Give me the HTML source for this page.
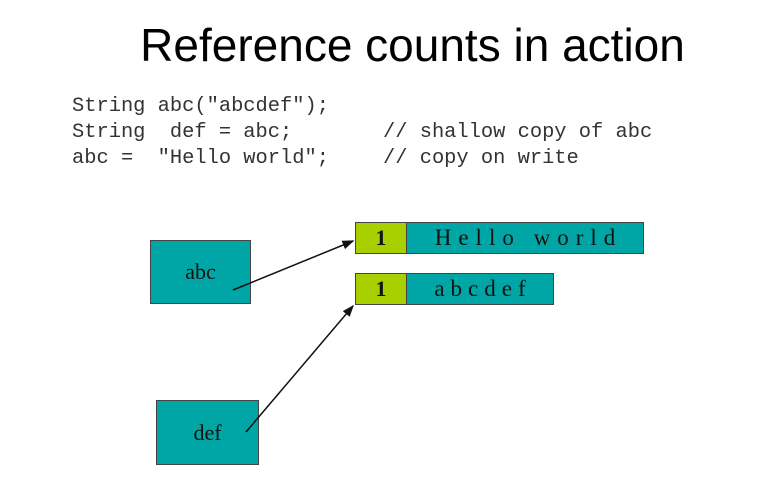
<!DOCTYPE html>
<html><head><style>
body{margin:0;width:769px;height:478px;background:#fff;overflow:hidden;position:relative;font-family:"Liberation Sans",sans-serif}
.t{position:absolute;left:0;width:825px;text-align:center;top:18px;font-size:46px;color:#000}
.c{position:absolute;font-family:"Liberation Mono",monospace;font-size:20.4px;color:#333;white-space:pre;line-height:24px}
.b{position:absolute;background:#00a6a6;border:1px solid #444;box-sizing:border-box;font-family:"Liberation Serif",serif;color:#111;display:flex;align-items:center;justify-content:center}
.g{background:#a8d000;font-weight:bold;font-size:22px}
</style></head><body>
<div class="t">Reference counts in action</div>
<div class="c" style="left:72px;top:95px">String abc("abcdef");</div>
<div class="c" style="left:72px;top:121px">String  def = abc;</div>
<div class="c" style="left:72px;top:147px">abc =  "Hello world";</div>
<div class="c" style="left:383px;top:121px">// shallow copy of abc</div>
<div class="c" style="left:383px;top:147px">// copy on write</div>
<div class="b g" style="left:355px;top:222px;width:52px;height:32px">1</div>
<div class="b" style="left:406px;top:222px;width:238px;height:32px;font-size:23px;letter-spacing:7px;padding-left:7px">Hello world</div>
<div class="b g" style="left:355px;top:273px;width:52px;height:32px">1</div>
<div class="b" style="left:406px;top:273px;width:148px;height:32px;font-size:23px;letter-spacing:6px;padding-left:6px">abcdef</div>
<div class="b" style="left:150px;top:240px;width:101px;height:64px;font-size:22px">abc</div>
<div class="b" style="left:156px;top:400px;width:103px;height:65px;font-size:22px">def</div>
<svg width="769" height="478" style="position:absolute;left:0;top:0">
<defs><marker id="a" markerWidth="8" markerHeight="8" refX="7" refY="4" orient="auto"><path d="M0,1 L8,4 L0,7 z" fill="#111"/></marker></defs>
<line x1="233" y1="290" x2="353" y2="241" stroke="#111" stroke-width="1.5" marker-end="url(#a)"/>
<line x1="246" y1="432" x2="353" y2="306" stroke="#111" stroke-width="1.5" marker-end="url(#a)"/>
</svg>
</body></html>
